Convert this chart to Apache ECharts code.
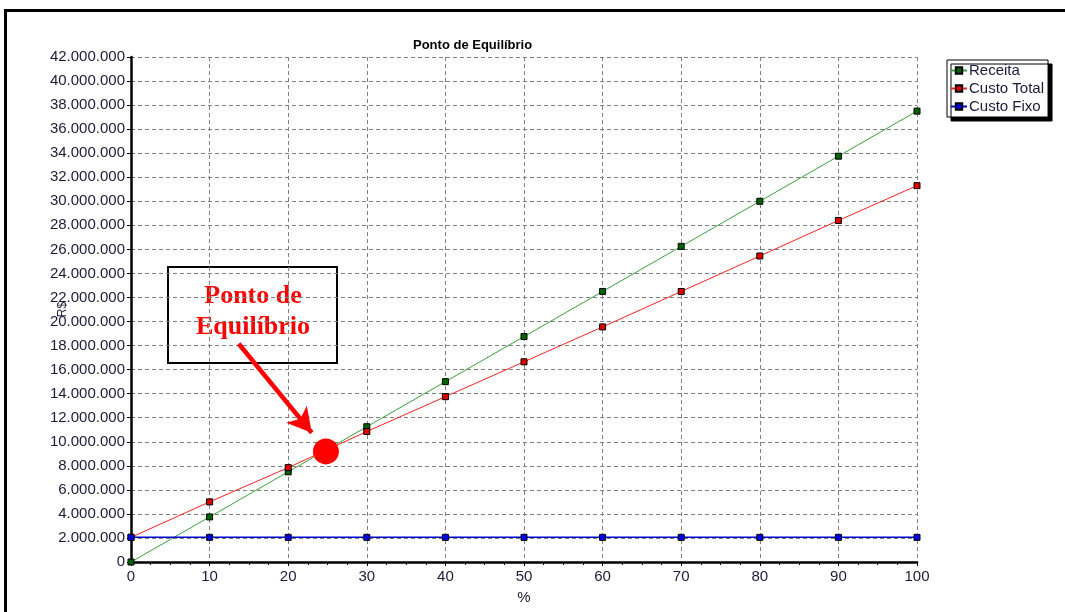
<!DOCTYPE html>
<html>
<head>
<meta charset="utf-8">
<script src="https://cdn.jsdelivr.net/npm/echarts@6/dist/echarts.min.js"></script>
<style>
html,body{margin:0;padding:0;background:#fff;}
#frame{position:absolute;left:4px;top:9px;width:1061px;height:603px;border-left:3px solid #000;border-top:3px solid #000;box-sizing:border-box;}
#chart{position:absolute;left:0;top:0;width:1065px;height:612px;}
</style>
</head>
<body>
<div id="frame"></div>
<div id="chart"></div>
<script>
const percent = [0, 10, 20, 30, 40, 50, 60, 70, 80, 90, 100];
const receita = [0, 3750000, 7500000, 11250000, 15000000, 18750000, 22500000, 26250000, 30000000, 33750000, 37500000];
const custoTotal = [2050000, 5000000, 7850000, 10850000, 13750000, 16650000, 19550000, 22500000, 25450000, 28400000, 31300000];
const custoFixo = [2050000, 2050000, 2050000, 2050000, 2050000, 2050000, 2050000, 2050000, 2050000, 2050000, 2050000];
const equilibrio = [[24.8, 9200000]];
const arrowFrom = [13.7, 18150000];
const arrowTo = [23.0, 10750000];

const pairs = arr => percent.map((p, i) => [p, arr[i]]);
const fmt = v => String(Math.round(v)).replace(/\B(?=(\d{3})+(?!\d))/g, '.');
const txt = '#1a1a3a';
const ff = 'Liberation Sans, Arial';

const chart = echarts.init(document.getElementById('chart'), null, {renderer: 'canvas'});
const sym = (fill) => ({
  symbol: 'rect', symbolSize: 6, showSymbol: true,
  itemStyle: {color: fill, borderColor: '#000', borderWidth: 1}
});
chart.setOption({
  animation: false,
  backgroundColor: 'transparent',
  title: {
    text: 'Ponto de Equilíbrio', left: 408, top: 34,
    textStyle: {fontFamily: ff, fontSize: 13, fontWeight: 'bold', color: '#000'}
  },
  legend: {
    orient: 'vertical', left: 947, top: 60,
    backgroundColor: '#fff', borderColor: '#000', borderWidth: 1,
    shadowColor: '#000', shadowBlur: 0, shadowOffsetX: 4, shadowOffsetY: 4,
    padding: [3, 4, 3, 3], itemGap: 3, itemWidth: 16, itemHeight: 8,
    textStyle: {fontFamily: ff, fontSize: 15, color: txt, padding: [0, 0, 0, -3]},
    data: ['Receita', 'Custo Total', 'Custo Fixo']
  },
  grid: {left: 131, right: 148, top: 57, bottom: 50},
  xAxis: {
    type: 'value', min: 0, max: 100, interval: 10,
    name: '%', nameLocation: 'middle', nameGap: 28, nameMoveOverlap: false,
    nameTextStyle: {fontFamily: ff, fontSize: 15, color: txt},
    axisLine: {show: true, onZero: false, lineStyle: {color: '#000', width: 2.5}},
    axisTick: {show: true, length: 4, lineStyle: {color: '#000'}},
    minorTick: {show: true, splitNumber: 4, length: 3, lineStyle: {color: '#000'}},
    axisLabel: {fontFamily: ff, fontSize: 15, color: txt, margin: 7},
    splitLine: {show: true, lineStyle: {color: '#808080', type: [4, 3], width: 1}}
  },
  yAxis: {
    type: 'value', min: 0, max: 42000000, interval: 2000000,
    name: 'R$', nameLocation: 'middle', nameGap: 62, nameRotate: 90, nameMoveOverlap: false,
    nameTextStyle: {fontFamily: ff, fontSize: 12, color: txt},
    axisLine: {show: true, onZero: false, lineStyle: {color: '#000', width: 2.5}},
    axisTick: {show: true, length: 4, lineStyle: {color: '#000'}},
    axisLabel: {fontFamily: ff, fontSize: 15, color: txt, margin: 6, formatter: fmt},
    splitLine: {show: true, lineStyle: {color: '#808080', type: [4, 3], width: 1}}
  },
  series: [
    Object.assign({
      name: 'Receita', type: 'line', data: pairs(receita), z: 3,
      lineStyle: {color: '#3aa03a', width: 1}
    }, sym('#006400'), {color: '#3aa03a'}),
    Object.assign({
      name: 'Custo Total', type: 'line', data: pairs(custoTotal), z: 3,
      lineStyle: {color: '#ff2020', width: 1},
      markLine: {
        silent: true, symbol: ['none', 'arrow'], symbolSize: [20, 24],
        lineStyle: {color: '#ff0000', width: 4.5, type: 'solid'},
        label: {show: false},
        data: [[{coord: arrowFrom}, {coord: arrowTo}]]
      }
    }, sym('#e00000'), {color: '#ff2020'}),
    Object.assign({
      name: 'Custo Fixo', type: 'line', data: pairs(custoFixo), z: 3,
      lineStyle: {color: '#0000cc', width: 1.5}
    }, sym('#0000ee'), {color: '#0000cc'}),
    {
      name: 'Equilíbrio', type: 'scatter', data: equilibrio, z: 5,
      symbol: 'circle', symbolSize: 26, itemStyle: {color: '#ff0000', opacity: 1}
    }
  ],
  graphic: [
    {
      type: 'group', left: 167, top: 266, z: 10,
      children: [
        {type: 'rect', shape: {x: 0, y: 0, width: 169, height: 96},
         style: {fill: '#fff', stroke: '#000', lineWidth: 2}},
        {type: 'text', x: 85, y: 14,
         style: {text: 'Ponto de\nEquilíbrio', align: 'center', verticalAlign: 'top',
                 fill: '#ff0000', font: 'bold 26px "Liberation Serif", "Times New Roman", serif', lineHeight: 31}}
      ]
    }
  ]
});
</script>
</body>
</html>
